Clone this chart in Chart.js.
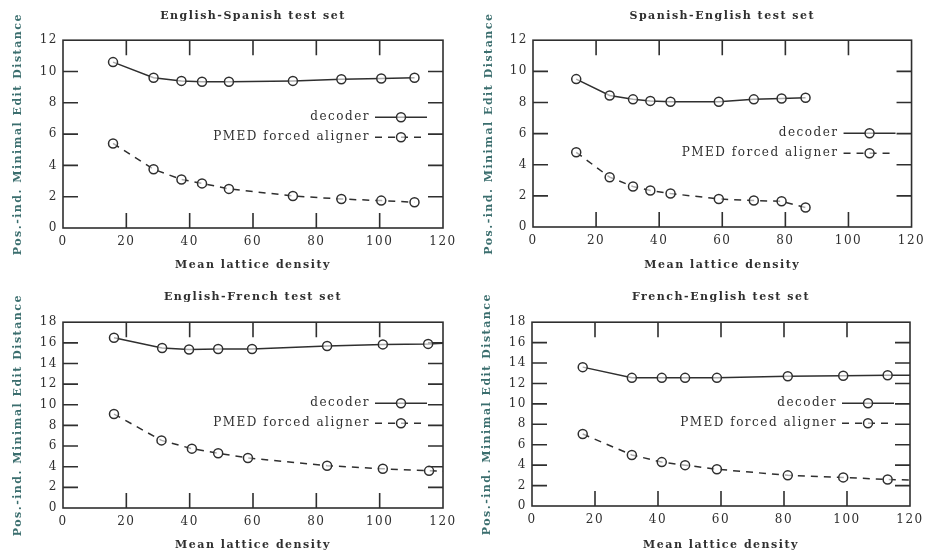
<!DOCTYPE html>
<html lang="en">
<head>
  <meta charset="UTF-8">
  <title>Mean lattice density vs. edit distance</title>
  <style>
    body {
      margin: 0;
      background: #ffffff;
    }
    .panel {
      position: absolute;
      width: 465px;
    }
  </style>
</head>
<body>
  <div class="panel" style="left:0;top:0;height:280px"><canvas id="esChart"></canvas></div>
  <div class="panel" style="left:465px;top:0;height:280px"><canvas id="seChart"></canvas></div>
  <div class="panel" style="left:0;top:280px;height:275px"><canvas id="efChart"></canvas></div>
  <div class="panel" style="left:465px;top:280px;height:275px"><canvas id="feChart"></canvas></div>

  <script src="https://cdn.jsdelivr.net/npm/chart.js"></script>
  <script>
    // values
    const seriesLabels = ["decoder", "PMED forced aligner"];

    // English-Spanish
    const esDensity = [15.8, 28.6, 37.4, 43.9, 52.4, 72.6, 87.9, 100.5, 111];
    const esDecoder = [10.6, 9.6, 9.4, 9.35, 9.35, 9.4, 9.5, 9.55, 9.6];
    const esPmed = [5.4, 3.75, 3.1, 2.85, 2.5, 2.05, 1.85, 1.75, 1.65];

    // Spanish-English
    const seDensity = [13.7, 24.3, 31.7, 37.2, 43.6, 58.9, 70, 78.8, 86.4];
    const seDecoder = [9.5, 8.45, 8.2, 8.1, 8.05, 8.05, 8.2, 8.25, 8.3];
    const sePmed = [4.8, 3.2, 2.6, 2.35, 2.15, 1.8, 1.7, 1.65, 1.25];

    // English-French (last point lies past the right edge)
    const efDensityDec = [16.1, 31.3, 39.8, 49, 59.7, 83.4, 101, 115.3, 125];
    const efDecoder = [16.5, 15.5, 15.35, 15.4, 15.4, 15.7, 15.85, 15.9, 16.05];
    const efDensityPmed = [16.1, 31.1, 40.7, 49, 58.4, 83.4, 101, 115.6, 125];
    const efPmed = [9.1, 6.55, 5.75, 5.3, 4.85, 4.1, 3.8, 3.6, 3.5];

    // French-English
    const feDensity = [16.1, 31.7, 41.2, 48.6, 58.7, 81.2, 98.8, 112.9, 125];
    const feDecoder = [13.6, 12.55, 12.55, 12.55, 12.55, 12.7, 12.75, 12.8, 12.8];
    const fePmed = [7.05, 5.0, 4.3, 4.0, 3.6, 3.0, 2.8, 2.6, 2.5];

    const xMax = 120;
    const yMaxSmall = 12;
    const yMaxLarge = 18;

    const ink = "#2f2f2f";
    const teal = "#3b6e6e";
    const serif = "'DejaVu Serif', 'Liberation Serif', serif";

    function pts(xs, ys) {
      return xs.map((x, i) => ({ x: x, y: ys[i] }));
    }

    // gnuplot style frame with ticks pointing inward on all four sides
    const frameTicks = {
      id: "frameTicks",
      beforeDraw(chart) {
        chart.ctx.letterSpacing = "1.5px";
      },
      beforeDatasetsDraw(chart) {
        const { ctx, chartArea: a, scales } = chart;
        const len = 15;
        ctx.save();
        ctx.strokeStyle = ink;
        ctx.lineWidth = 1.6;
        ctx.strokeRect(a.left, a.top, a.right - a.left, a.bottom - a.top);
        ctx.beginPath();
        scales.x.ticks.forEach(t => {
          if (t.value <= scales.x.min || t.value >= scales.x.max) return;
          const px = scales.x.getPixelForValue(t.value);
          ctx.moveTo(px, a.bottom); ctx.lineTo(px, a.bottom - len);
          ctx.moveTo(px, a.top); ctx.lineTo(px, a.top + len);
        });
        scales.y.ticks.forEach(t => {
          if (t.value <= scales.y.min || t.value >= scales.y.max) return;
          const py = scales.y.getPixelForValue(t.value);
          ctx.moveTo(a.left, py); ctx.lineTo(a.left + len, py);
          ctx.moveTo(a.right, py); ctx.lineTo(a.right - len, py);
        });
        ctx.stroke();
        ctx.restore();
      }
    };

    // key inside the plot: text first, then a line sample with its marker
    const insideKey = {
      id: "insideKey",
      afterDatasetsDraw(chart, args, opts) {
        const { ctx, chartArea: a } = chart;
        ctx.save();
        ctx.letterSpacing = "1.5px";
        ctx.font = "12px " + serif;
        ctx.textAlign = "right";
        ctx.textBaseline = "middle";
        chart.data.datasets.forEach((ds, i) => {
          const y = a.top + opts.top + i * 20;
          const x0 = a.right - opts.sampleStart;
          const x1 = a.right - opts.sampleEnd;
          ctx.fillStyle = ink;
          ctx.fillText(ds.label, x0 - 5, y);
          ctx.strokeStyle = ink;
          ctx.lineWidth = 1.5;
          ctx.setLineDash(ds.borderDash || []);
          ctx.beginPath();
          ctx.moveTo(x0, y); ctx.lineTo(x1, y);
          ctx.stroke();
          ctx.setLineDash([]);
          ctx.beginPath();
          ctx.arc((x0 + x1) / 2, y, 4.5, 0, Math.PI * 2);
          ctx.fillStyle = "rgba(255,255,255,0.6)";
          ctx.fill();
          ctx.stroke();
        });
        ctx.restore();
      }
    };

    function makePanel(id, p) {
      new Chart(document.getElementById(id), {
        type: "line",
        data: {
          datasets: [{
            label: seriesLabels[0],
            data: p.decoder,
            borderColor: ink,
            borderWidth: 1.5,
            pointRadius: 4.5,
            pointBorderWidth: 1.5,
            pointBorderColor: ink,
            pointBackgroundColor: "rgba(255,255,255,0.6)",
            tension: 0
          }, {
            label: seriesLabels[1],
            data: p.pmed,
            borderColor: ink,
            borderWidth: 1.5,
            borderDash: [7, 6],
            pointRadius: 4.5,
            pointBorderWidth: 1.5,
            pointBorderColor: ink,
            pointBackgroundColor: "rgba(255,255,255,0.6)",
            tension: 0
          }]
        },
        options: {
          responsive: true,
          maintainAspectRatio: false,
          animation: false,
          layout: { padding: { left: p.padLeft, right: p.padRight, top: 0, bottom: 0 } },
          plugins: {
            legend: { display: false },
            tooltip: { enabled: false },
            title: {
              display: true,
              text: p.title,
              fullSize: false,
              color: ink,
              font: { family: serif, size: 11, weight: "bold" },
              padding: { top: p.titleTop, bottom: p.titleBottom }
            },
            insideKey: { top: p.keyTop, sampleStart: 68, sampleEnd: 16 }
          },
          scales: {
            x: {
              type: "linear",
              min: 0,
              max: xMax,
              grid: { display: false, drawTicks: false },
              border: { display: false },
              ticks: { stepSize: 20, color: ink, padding: 7, font: { family: serif, size: 12 } },
              title: {
                display: true,
                text: "Mean lattice density",
                color: ink,
                font: { family: serif, size: 11, weight: "bold" },
                padding: { top: 0, bottom: p.xTitleBottom }
              },
              afterFit(s) { s.height = p.xHeight; }
            },
            y: {
              min: 0,
              max: p.yMax,
              grid: { display: false, drawTicks: false },
              border: { display: false },
              ticks: { stepSize: 2, color: ink, padding: 5, font: { family: serif, size: 12 } },
              title: {
                display: true,
                text: "Pos.-ind. Minimal Edit Distance",
                color: teal,
                font: { family: serif, size: 11, weight: "bold" },
                padding: 0
              },
              afterFit(s) { s.width = p.yWidth; }
            }
          }
        },
        plugins: [frameTicks, insideKey]
      });
    }

    makePanel("esChart", {
      title: "English-Spanish test set",
      decoder: pts(esDensity, esDecoder), pmed: pts(esDensity, esPmed),
      yMax: yMaxSmall, padLeft: 12, padRight: 22, yWidth: 51,
      titleTop: 10, titleBottom: 17, xHeight: 52, xTitleBottom: 8, keyTop: 77
    });
    makePanel("seChart", {
      title: "Spanish-English test set",
      decoder: pts(seDensity, seDecoder), pmed: pts(seDensity, sePmed),
      yMax: yMaxSmall, padLeft: 18, padRight: 18, yWidth: 50,
      titleTop: 10, titleBottom: 17, xHeight: 53, xTitleBottom: 8, keyTop: 93
    });
    makePanel("efChart", {
      title: "English-French test set",
      decoder: pts(efDensityDec, efDecoder), pmed: pts(efDensityPmed, efPmed),
      yMax: yMaxLarge, padLeft: 12, padRight: 22, yWidth: 51,
      titleTop: 11, titleBottom: 18, xHeight: 47, xTitleBottom: 3, keyTop: 81
    });
    makePanel("feChart", {
      title: "French-English test set",
      decoder: pts(feDensity, feDecoder), pmed: pts(feDensity, fePmed),
      yMax: yMaxLarge, padLeft: 16, padRight: 20, yWidth: 51,
      titleTop: 11, titleBottom: 18, xHeight: 49, xTitleBottom: 3, keyTop: 81
    });
  </script>
</body>
</html>
